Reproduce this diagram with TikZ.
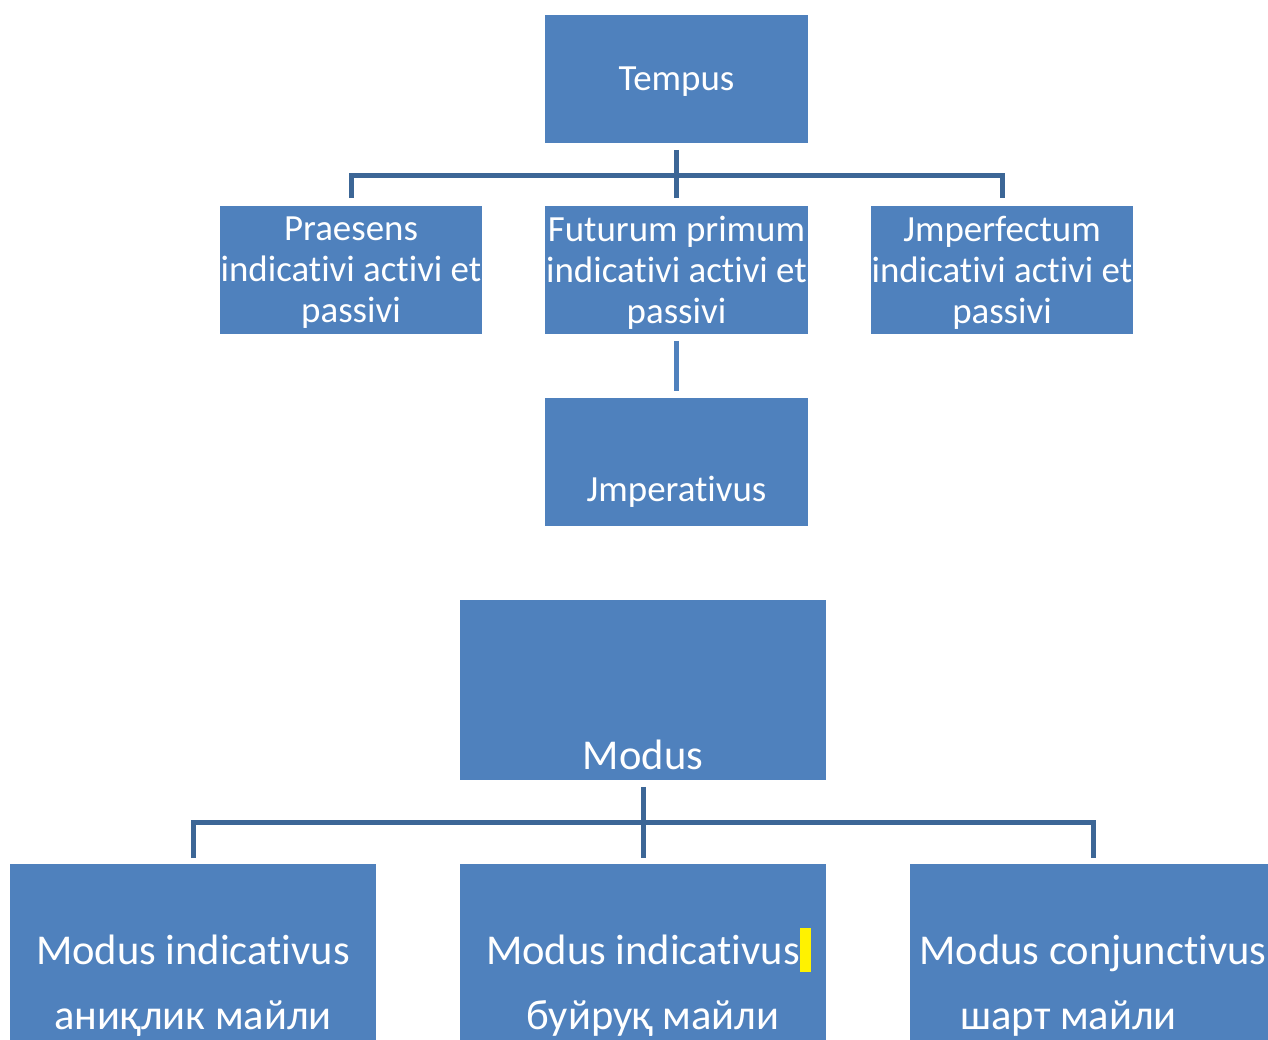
\documentclass[tikz,border=0pt]{standalone}
\usepackage{fontspec}
\setmainfont{Carlito}[Ligatures=NoCommon]
\usetikzlibrary{positioning}
\definecolor{boxblue}{HTML}{4F81BD}
\definecolor{lineblue}{HTML}{3C6696}
\tikzset{
  box/.style={fill=boxblue, inner sep=0pt, outer sep=0pt, minimum width=5.26cm, minimum height=2.56cm},
  bigbox/.style={fill=boxblue, inner sep=0pt, outer sep=0pt, minimum width=7.32cm, minimum height=4cm},
  toptxt/.style={text=white, font=\fontsize{21}{23.3}\selectfont, inner sep=0pt, align=center},
  bigtxt/.style={text=white, font=\fontsize{24.2}{28}\selectfont, inner sep=0pt, anchor=base},
  conn/.style={draw=lineblue, line width=0.1cm},
}
\begin{document}
\begin{tikzpicture}[x=0.02cm, y=-0.02cm]
\useasboundingbox (0,0) rectangle (1268,1039);
\clip (0,0) rectangle (1268,1039);
% Tempus
\node[box] (tempus) at (676.5,79) {};
\node[box] (praes) at (351,270) {};
\node[box] (fut) at (676.5,270) {};
\node[box] (jmperf) at (1002,270) {};
\node[box] (imper) at (676.5,461.5) {};
\node[toptxt] (tempusT) at (676.5,82) {Tempus};
\node[toptxt] (praesT) at (351,273) {Praesens\\indicativi activi et\\passivi};
\node[toptxt] (futT) at (676.5,273) {Futurum primum\\indicativi activi et\\passivi};
\node[toptxt] (jmperfT) at (1002,273) {Jmperfectum\\indicativi activi et\\passivi};
\node[toptxt, anchor=base] (imperT) at (676.5,501) {Jmperativus};
\draw[conn] ([yshift=-0.14cm]tempus.south) -- ([yshift=-0.64cm]tempus.south);
\draw[conn] ([yshift=0.16cm]praes.north) |- ([yshift=0.62cm]jmperf.north) -- ([yshift=0.16cm]jmperf.north);
\draw[conn] ([yshift=0.16cm]fut.north) -- ([yshift=0.62cm]fut.north);
\draw[conn, draw=boxblue] ([yshift=-0.14cm]fut.south) -- ([yshift=0.14cm]imper.north);
% Modus
\node[bigbox, minimum height=3.6cm] (modus) at (643,690) {};
\node[bigtxt] (modusT) at (643,769) {Modus};
\node[bigbox] (mind) at (193,964) {};
\node[bigbox] (mbuy) at (643,964) {};
\node[bigbox] (mcon) at (1093,964) {};
\draw[conn] ([yshift=-0.14cm]modus.south) -- ([yshift=0.12cm]mbuy.north);
\draw[conn] ([yshift=0.12cm]mind.north) |- ([yshift=0.84cm]mcon.north) -- ([yshift=0.12cm]mcon.north);
\node[bigtxt] (mindA) at (193,964) {Modus indicativus};
\node[bigtxt] (mindB) at (193,1029) {аниқлик майли};
\fill[yellow] (800,928) rectangle (811,972);
\node[bigtxt] (mbuyA) at (643,964) {Modus indicativus};
\node[bigtxt] (mbuyB) at (653,1029) {буйруқ майли};
\node[bigtxt] (mconA) at (1093,964) {Modus conjunctivus};
\node[bigtxt, anchor=base west] (mconB) at (960,1029) {шарт майли};
\end{tikzpicture}
\end{document}
